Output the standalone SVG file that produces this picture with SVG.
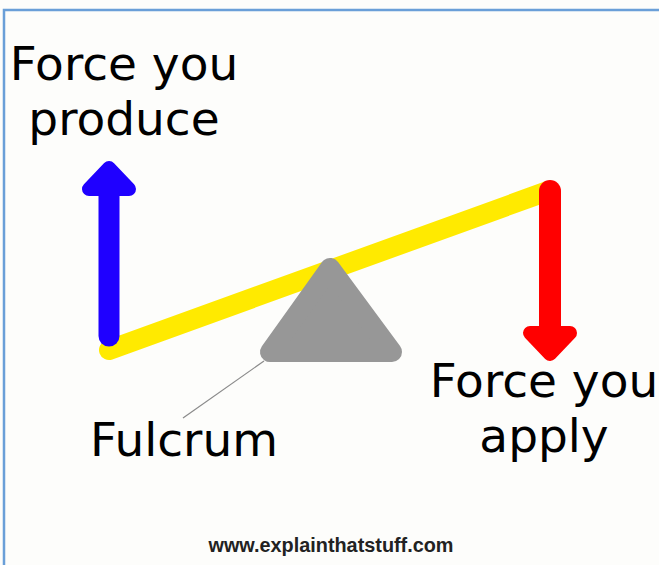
<svg xmlns="http://www.w3.org/2000/svg" width="659" height="565" viewBox="0 0 659 565">
  <style>
    .lbl { font-family: "DejaVu Sans", Verdana, sans-serif; font-size: 47px; fill: #000; text-anchor: middle; }
    .url { font-family: "Liberation Sans", Arial, sans-serif; font-size: 20px; font-weight: bold; fill: #222; text-anchor: middle; }
  </style>
  <rect x="0" y="0" width="659" height="565" fill="#fdfdfb"/>
  <path d="M4,565 V10 H659" fill="none" stroke="#6a9fd8" stroke-width="2.5"/>

  <g id="lever">
    <line x1="109" y1="350" x2="548" y2="191" stroke="#ffea00" stroke-width="20" stroke-linecap="round"/>
  </g>
  <g id="fulcrum">
    <polygon points="330,268 270,352 392,352" fill="#979797" stroke="#979797" stroke-width="20" stroke-linejoin="round"/>
  </g>
  <g id="connectors">
    <line x1="264" y1="361" x2="183" y2="418" stroke="#8a8a8a" stroke-width="1.2"/>
  </g>
  <g id="force-produce-arrow">
    <line x1="109" y1="336" x2="109" y2="180" stroke="#1f00ff" stroke-width="21" stroke-linecap="round"/>
    <polygon points="109,168 89,189 129,189" fill="#1f00ff" stroke="#1f00ff" stroke-width="14" stroke-linejoin="round"/>
  </g>
  <g id="force-apply-arrow">
    <line x1="550" y1="191" x2="550" y2="340" stroke="#ff0000" stroke-width="22" stroke-linecap="round"/>
    <polygon points="550,354 530,333 570,333" fill="#ff0000" stroke="#ff0000" stroke-width="14" stroke-linejoin="round"/>
  </g>

  <g id="label-produce">
    <text class="lbl" x="124" y="80">Force you</text>
    <text class="lbl" x="124" y="135">produce</text>
  </g>
  <g id="label-fulcrum">
    <text class="lbl" x="184" y="456">Fulcrum</text>
  </g>
  <g id="label-apply">
    <text class="lbl" x="544" y="397">Force you</text>
    <text class="lbl" x="544" y="452">apply</text>
  </g>
  <g id="credit">
    <text class="url" x="331" y="552" textLength="245" lengthAdjust="spacingAndGlyphs">www.explainthatstuff.com</text>
  </g>
</svg>
